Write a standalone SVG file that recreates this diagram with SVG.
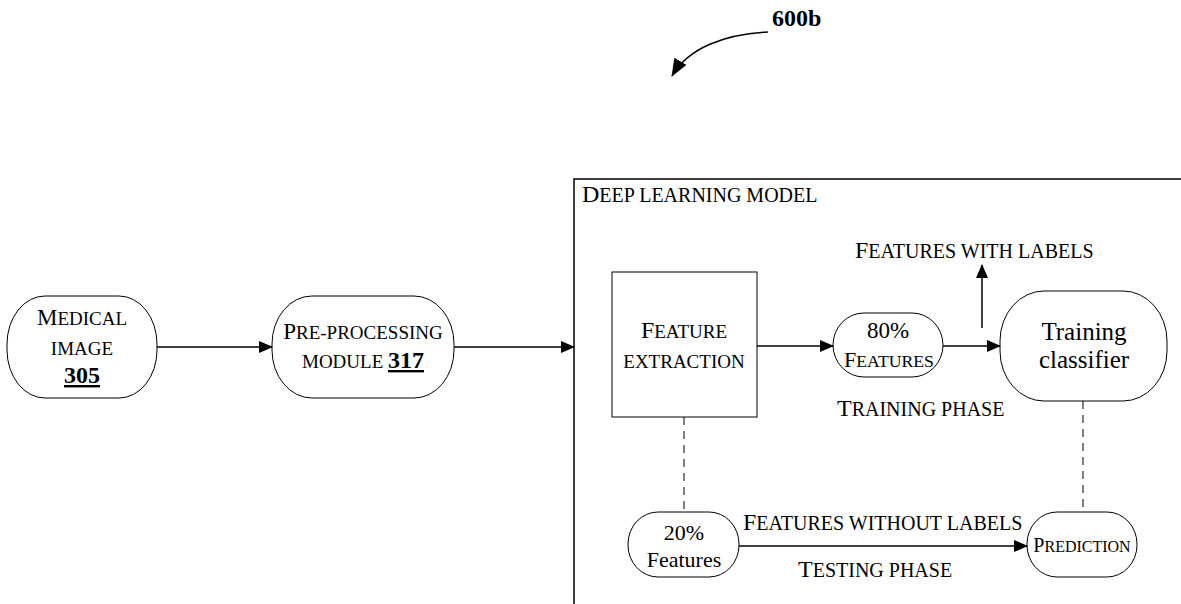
<svg xmlns="http://www.w3.org/2000/svg" width="1181" height="604" viewBox="0 0 1181 604">
<style>
text{font-family:"Liberation Serif","Times New Roman",serif;fill:#000}
.c{text-anchor:middle}
.b{font-weight:bold}
.shape{fill:#fff;stroke:#000;stroke-width:1}
.ln{stroke:#000;stroke-width:1.5;fill:none}
.dash{stroke:#000;stroke-width:1;fill:none;stroke-dasharray:8,6}
</style>
<defs>
<marker id="ah" markerWidth="14" markerHeight="12" refX="13" refY="6" orient="auto" markerUnits="userSpaceOnUse">
<path d="M0,0 L14,6 L0,12 Z" fill="#000"/>
</marker>
<marker id="ah2" markerWidth="18" markerHeight="14" refX="17" refY="7" orient="auto" markerUnits="userSpaceOnUse">
<path d="M0,0 L18,7 L0,14 Z" fill="#000"/>
</marker>
</defs>
<g id="label600b">
<text x="772" y="26" class="b" font-size="24">600b</text>
</g>
<g id="deep-learning-model">
<path d="M574,604 L574,179 L1181,179" class="ln" stroke-width="1.2"/>
<text x="582" y="202" font-size="20"><tspan font-size="24">D</tspan>EEP LEARNING MODEL</text>
</g>
<g id="medical-image">
<rect x="7" y="296" width="150" height="102" rx="38" ry="48" class="shape"/>
<text x="82" y="325" class="c" font-size="19"><tspan font-size="23">M</tspan>EDICAL</text>
<text x="82" y="355" class="c" font-size="19">IMAGE</text>
<text x="82" y="383" class="c b" font-size="24" text-decoration="underline">305</text>
</g>
<g id="pre-processing">
<rect x="272" y="296" width="182" height="102" rx="40" ry="48" class="shape"/>
<text x="363" y="339" class="c" font-size="19"><tspan font-size="23">P</tspan>RE-PROCESSING</text>
<text x="363" y="368" class="c" font-size="19">MODULE <tspan class="b" font-size="24" text-decoration="underline">317</tspan></text>
</g>
<g id="feature-extraction">
<rect x="612" y="272" width="145" height="145" class="shape"/>
<text x="684" y="338" class="c" font-size="19"><tspan font-size="24">F</tspan>EATURE</text>
<text x="684" y="368" class="c" font-size="19">EXTRACTION</text>
</g>
<g id="features-80">
<rect x="833" y="313" width="110" height="64" rx="31" ry="32" class="shape"/>
<text x="888" y="338" class="c" font-size="23">80%</text>
<text x="889" y="367" class="c" font-size="17.7"><tspan font-size="22">F</tspan>EATURES</text>
</g>
<g id="training-classifier">
<rect x="1000" y="291" width="167" height="110" rx="44" ry="50" class="shape"/>
<text x="1084" y="340" class="c" font-size="25">Training</text>
<text x="1084" y="368" class="c" font-size="25">classifier</text>
</g>
<g id="features-20">
<rect x="628" y="512" width="111" height="65" rx="30" ry="32" class="shape"/>
<text x="684" y="540" class="c" font-size="22">20%</text>
<text x="684" y="567" class="c" font-size="22">Features</text>
</g>
<g id="prediction">
<rect x="1027" y="512" width="110" height="65" rx="30" ry="32" class="shape"/>
<text x="1082" y="552" class="c" font-size="16"><tspan font-size="20">P</tspan>REDICTION</text>
</g>
<g id="labels">
<text x="855" y="258" font-size="20"><tspan font-size="24">F</tspan>EATURES WITH LABELS</text>
<text x="837" y="416" font-size="20"><tspan font-size="24">T</tspan>RAINING PHASE</text>
<text x="743" y="530" font-size="20"><tspan font-size="24">F</tspan>EATURES WITHOUT LABELS</text>
<text x="798" y="577" font-size="20"><tspan font-size="24">T</tspan>ESTING PHASE</text>
</g>
<g id="connectors">
<path d="M768,32 C725,34 688,48 672,76" class="ln" marker-end="url(#ah2)"/>
<line x1="157" y1="347" x2="272" y2="347" class="ln" marker-end="url(#ah)"/>
<line x1="454" y1="347" x2="574" y2="347" class="ln" marker-end="url(#ah)"/>
<line x1="757" y1="346" x2="833" y2="346" class="ln" marker-end="url(#ah)"/>
<line x1="943" y1="346" x2="1000" y2="346" class="ln" marker-end="url(#ah)"/>
<line x1="982" y1="328" x2="982" y2="265" class="ln" marker-end="url(#ah)"/>
<line x1="739" y1="546" x2="1027" y2="546" class="ln" marker-end="url(#ah)"/>
<line x1="684" y1="417" x2="684" y2="512" class="dash"/>
<line x1="1083" y1="401" x2="1083" y2="512" class="dash"/>
</g>
</svg>
